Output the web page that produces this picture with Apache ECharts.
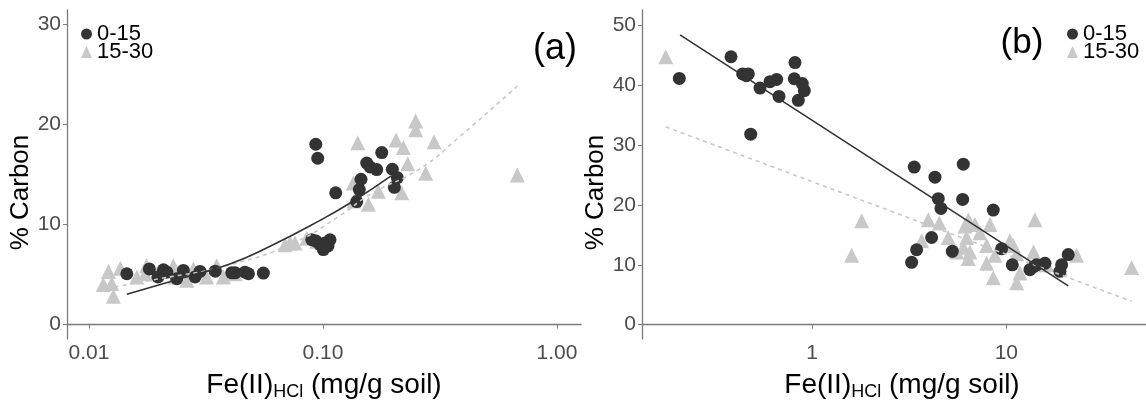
<!DOCTYPE html>
<html>
<head>
<meta charset="utf-8">
<script src="https://cdn.jsdelivr.net/npm/echarts@6/dist/echarts.min.js"></script>
<style>
  html, body { margin: 0; padding: 0; background: #fff; overflow: hidden; }
  #chart { width: 1146px; height: 406px; }
</style>
</head>
<body>
<div id="chart"></div>
<script>
// Panel (a): Fe(II)HCl (mg/g soil) vs % Carbon
const feA_0_15 = [0.0145, 0.0181, 0.0197, 0.0208, 0.0215, 0.0237, 0.0253, 0.0284, 0.0298, 0.0346,
  0.0407, 0.0421, 0.0464, 0.0480, 0.0556,
  0.0895, 0.0933, 0.0971, 0.1020, 0.1071, 0.1003, 0.1050,
  0.0931, 0.0949, 0.1133, 0.1453, 0.1429, 0.1393, 0.1537, 0.1589, 0.1696, 0.1782, 0.1978, 0.2077, 0.2017];
const carbonA_0_15 = [5.08, 5.56, 4.76, 5.47, 5.24, 4.59, 5.41, 4.76, 5.31, 5.34,
  5.17, 5.17, 5.24, 5.08, 5.15,
  8.48, 8.35, 7.99, 8.16, 8.48, 7.50, 7.86,
  18.03, 16.63, 13.17, 14.53, 13.50, 12.30, 16.15, 15.76, 15.50, 17.20, 15.53, 14.69, 13.72];

const feA_15_30 = [0.0115, 0.0121, 0.0125, 0.0127, 0.0136, 0.0160, 0.0174, 0.0176, 0.0195, 0.0229,
  0.0233, 0.0262, 0.0279, 0.0318, 0.0351, 0.0375, 0.0421,
  0.0688, 0.0723, 0.0759, 0.0852, 0.0940,
  0.1348, 0.1357, 0.1407, 0.1562, 0.1723, 0.2051, 0.2169, 0.2204, 0.2301, 0.2489, 0.2489, 0.2748, 0.2981, 0.6765];
const carbonA_15_30 = [4.01, 5.31, 4.11, 2.82, 5.63, 4.76, 5.08, 5.89, 5.08, 5.89,
  4.76, 4.44, 5.56, 4.76, 5.89, 4.76, 5.08,
  7.99, 8.16, 8.16, 8.64, 8.32,
  14.15, 12.36, 18.18, 12.04, 13.33, 18.45, 13.17, 17.70, 16.09, 20.36, 19.49, 15.12, 18.28, 14.95];

// fitted trend curves, panel (a)
const fitA_0_15_fe = [0.0145, 0.0245, 0.0400, 0.0594, 0.0971, 0.1348, 0.1947];
const fitA_0_15_c = [3.04, 4.59, 6.05, 7.83, 10.42, 12.36, 14.85];
const fitA_15_30_fe = [0.0119, 0.0201, 0.0388, 0.0747, 0.1182, 0.1588, 0.2598, 0.3850, 0.6765];
const fitA_15_30_c = [3.62, 4.59, 5.89, 8.16, 10.90, 13.01, 15.60, 18.83, 23.85];

// Panel (b)
const feB_0_15 = [0.2077, 0.3832, 0.4398, 0.4705, 0.4600, 0.5402, 0.6081, 0.6579, 0.6765, 0.8178,
  0.8110, 0.8919, 0.9133, 0.8503, 0.4839,
  3.358, 4.293, 6.004, 4.465, 4.609, 5.959, 8.566, 4.127, 3.454, 3.256, 5.272,
  9.455, 10.73, 13.22, 13.70, 14.31, 15.80, 19.25, 18.87, 20.82];
const carbonB_0_15 = [41.15, 44.77, 41.91, 41.91, 41.60, 39.53, 40.61, 40.99, 38.14, 43.80,
  41.10, 40.29, 39.11, 37.49, 31.83,
  26.33, 24.64, 26.81, 21.04, 19.42, 20.92, 19.14, 14.56, 12.51, 10.40, 12.25,
  12.67, 9.98, 9.17, 9.60, 9.98, 10.24, 9.98, 8.90, 11.70];

const feB_15_30 = [0.1768, 1.802, 1.600, 44.12, 14.03,
  3.968, 4.519, 3.666, 5.025, 6.368, 6.124, 6.895, 8.234, 6.247, 7.315, 6.004, 5.548, 6.496, 6.368,
  7.915, 8.738, 7.915, 8.566, 10.43, 10.86, 11.30, 11.75, 11.30, 13.79, 14.89, 16.20, 18.90, 22.99];
const carbonB_15_30 = [44.77, 17.36, 11.60, 9.55, 17.52,
  17.52, 16.99, 14.03, 14.56, 17.52, 16.46, 16.72, 16.72, 14.56, 15.37, 12.94, 12.14, 12.14, 11.05,
  13.22, 11.60, 10.24, 7.82, 14.03, 13.22, 11.86, 8.62, 7.00, 12.14, 9.98, 9.98, 9.40, 11.60];

// fitted trend lines, panel (b)
const fitB_0_15_fe = [0.2094, 20.82];
const fitB_0_15_c = [48.43, 6.47];
const fitB_15_30_fe = [0.1768, 44.12];
const fitB_15_30_c = [33.06, 3.88];

const ticksA_x = [0.01, 0.1, 1];
const ticksA_y = [0, 10, 20, 30];
const ticksB_x = [1, 10];
const ticksB_y = [0, 10, 20, 30, 40, 50];

const zip = (xs, ys) => xs.map((x, i) => [x, ys[i]]);

const DARK = '#333333';
const LIGHT = '#c8c8c8';
const AXIS = '#7a7a7a';
const FONT = 'Liberation Sans, Arial, sans-serif';

const xName = '{base|Fe(II)}{sub|HCl}{base| (mg/g soil)}';
const nameRich = {
  base: { fontSize: 28, color: '#000', fontFamily: FONT, lineHeight: 32 },
  sub: { fontSize: 18, color: '#000', fontFamily: FONT, lineHeight: 32, padding: [14, 0, 0, 0] }
};

function xAxis(gridIndex, min, max, ticks, fmt, shift) {
  return {
    type: 'log', gridIndex, min, max, logBase: 10,
    name: xName, nameLocation: 'middle', nameGap: 25,
    nameTextStyle: { fontSize: 28, fontFamily: FONT, color: '#000', rich: nameRich, padding: [0, 0, 0, shift] },
    axisLine: { lineStyle: { color: AXIS, width: 1.3 } },
    axisTick: { customValues: ticks, length: 4, lineStyle: { color: AXIS } },
    axisLabel: { customValues: ticks, formatter: fmt, color: '#4d4d4d', fontSize: 21, fontFamily: FONT, margin: 4 },
    splitLine: { show: false }, minorTick: { show: false }
  };
}
function yAxis(gridIndex, min, max, ticks) {
  return {
    type: 'value', gridIndex, min, max,
    name: '% Carbon', nameLocation: 'middle', nameGap: 32,
    nameTextStyle: { fontSize: 26, color: '#000', fontFamily: FONT, padding: [0, 36, 0, 0] },
    axisLine: { show: true, lineStyle: { color: AXIS, width: 1.3 } },
    axisTick: { show: true, customValues: ticks, length: 4, lineStyle: { color: AXIS } },
    axisLabel: { customValues: ticks, color: '#4d4d4d', fontSize: 21, fontFamily: FONT, margin: 6 },
    splitLine: { show: false }
  };
}
function legend(left) {
  return {
    data: [{ name: '0-15', icon: 'circle' }, { name: '15-30', icon: 'triangle' }],
    orient: 'vertical', left, top: 23, itemWidth: 11, itemHeight: 12, itemGap: -4,
    selectedMode: false, padding: 0,
    textStyle: { fontSize: 22, color: '#000', fontFamily: FONT }
  };
}
function scatter(name, idx, data, symbol, size, color) {
  return { type: 'scatter', name, xAxisIndex: idx, yAxisIndex: idx, data, symbol, symbolSize: size,
    itemStyle: { color, opacity: 1 }, emphasis: { disabled: true } };
}
function fit(idx, data, color, dashed) {
  return { type: 'line', xAxisIndex: idx, yAxisIndex: idx, data, smooth: data.length > 2,
    showSymbol: false, symbol: 'none', z: 5,
    lineStyle: { color, width: 1.6, type: dashed ? [4, 4] : 'solid' } };
}

const chart = echarts.init(document.getElementById('chart'), null, { renderer: 'canvas' });
chart.setOption({
  animation: false,
  backgroundColor: '#fff',
  grid: [
    { left: 67, right: 565, top: 10, bottom: 57 },
    { left: 642, right: 0, top: 10, bottom: 56 }
  ],
  xAxis: [
    xAxis(0, 0.00805, 1.266, ticksA_x, v => v.toFixed(2), 0),
    xAxis(1, 0.1335, 52.3, ticksB_x, v => String(Math.round(v)), 16)
  ],
  yAxis: [
    yAxis(0, -1.456, 31.46, ticksA_y),
    yAxis(1, -2.43, 52.59, ticksB_y)
  ],
  legend: [legend(81), legend(1067)],
  graphic: [
    { type: 'text', x: 555, y: 49, style: { text: '(a)', fontSize: 36, fill: '#000', fontFamily: FONT, align: 'center', verticalAlign: 'middle' } },
    { type: 'text', x: 1022, y: 43, style: { text: '(b)', fontSize: 35, fill: '#000', fontFamily: FONT, align: 'center', verticalAlign: 'middle' } }
  ],
  series: [
    scatter('15-30', 0, zip(feA_15_30, carbonA_15_30), 'triangle', 15, LIGHT),
    scatter('0-15', 0, zip(feA_0_15, carbonA_0_15), 'circle', 13, DARK),
    fit(0, zip(fitA_15_30_fe, fitA_15_30_c), LIGHT, true),
    fit(0, zip(fitA_0_15_fe, fitA_0_15_c), DARK, false),
    scatter('15-30', 1, zip(feB_15_30, carbonB_15_30), 'triangle', 15, LIGHT),
    scatter('0-15', 1, zip(feB_0_15, carbonB_0_15), 'circle', 13, DARK),
    fit(1, zip(fitB_15_30_fe, fitB_15_30_c), LIGHT, true),
    fit(1, zip(fitB_0_15_fe, fitB_0_15_c), DARK, false)
  ]
});
</script>
</body>
</html>
